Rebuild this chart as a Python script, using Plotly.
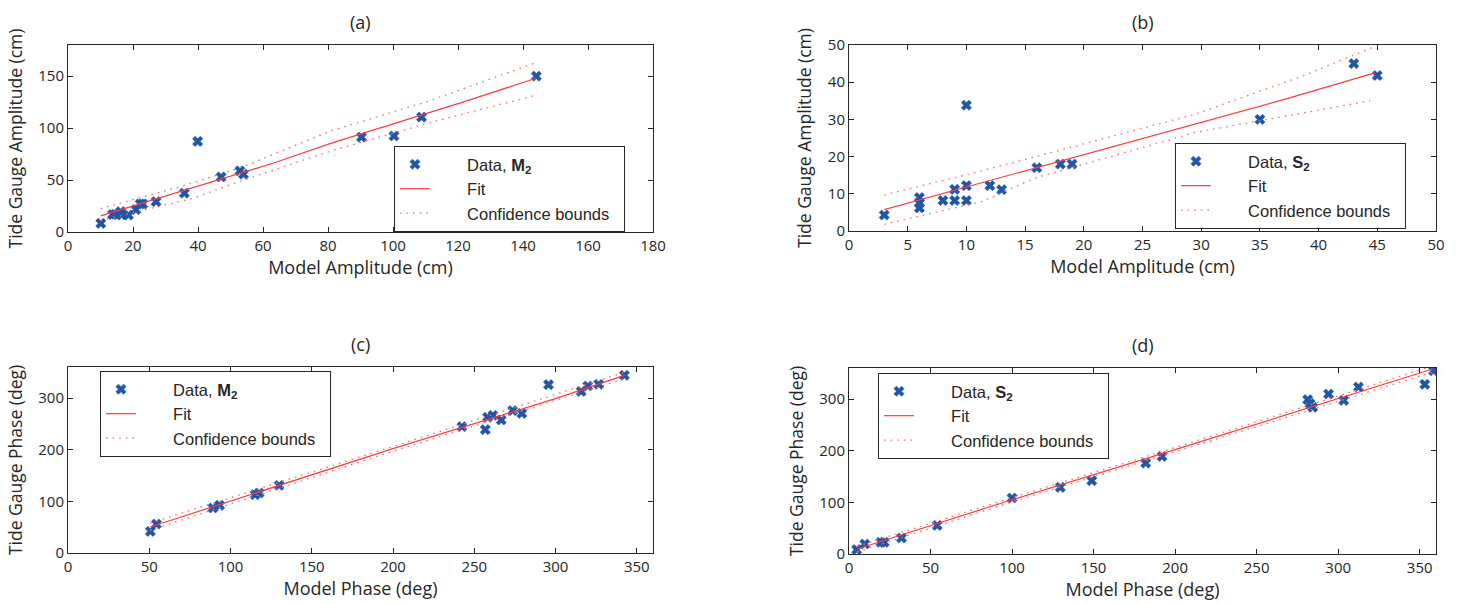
import plotly.graph_objects as go

# ---------------- data ----------------
# (a) amplitude M2
a_model = [10.1, 13.7, 14.5, 16.2, 16.5, 18.6, 20.9, 22.2, 23.0, 27.1, 35.8, 39.9, 47.1, 52.9, 54.0, 90.3, 100.3, 108.8, 144.1]
a_gauge = [8.3, 16.8, 17.1, 19.6, 16.5, 16.3, 21.5, 27.0, 27.0, 29.2, 37.4, 87.2, 53.0, 58.8, 55.6, 91.3, 92.4, 110.6, 150.0]
a_fit_x = [10, 64, 80.6, 122.7, 144]
a_fit_y = [15.5, 67.1, 85.0, 126.2, 148.0]
a_up_x = [10, 36, 54, 80.6, 111, 144]
a_up_y = [22.5, 45.0, 63.0, 97.0, 126.0, 163.0]
a_lo_x = [10, 28, 38.6, 54, 80.6, 111, 144]
a_lo_y = [11.0, 24.5, 32.6, 50.0, 77.7, 105.0, 131.7]

# (b) amplitude S2
b_model = [3, 6, 6, 6, 8, 9, 9, 10, 10, 10, 12, 13, 16, 18, 19, 35, 43, 45]
b_gauge = [4.3, 9.0, 7.5, 6.2, 8.2, 8.2, 11.2, 8.2, 12.2, 33.8, 12.2, 11.1, 17.0, 18.0, 18.0, 30.0, 45.0, 41.8]
b_fit_x = [3, 23.2, 37.1, 44.8]
b_fit_y = [5.75, 23.2, 35.4, 42.5]
b_up_x = [3, 9.85, 15.8, 29.5, 38.6, 44.8]
b_up_y = [9.7, 15.0, 19.9, 31.4, 41.6, 49.6]
b_lo_x = [3, 11.4, 15.8, 29.5, 44.4]
b_lo_y = [1.8, 8.0, 14.2, 26.5, 35.0]

# (c) phase M2
c_model = [50.7, 54.4, 89.2, 93.3, 115.1, 117.6, 129.9, 242.4, 256.8, 258.2, 261.5, 266.6, 273.6, 279.3, 295.7, 315.8, 319.9, 326.6, 342.4]
c_gauge = [41.9, 56.1, 87.1, 92.3, 112.9, 116.1, 131.0, 244.5, 238.7, 262.6, 266.5, 257.4, 275.5, 270.3, 325.8, 312.9, 323.2, 326.5, 343.9]
c_fit_x = [50.5, 200, 300, 342.4]
c_fit_y = [50.3, 201.9, 298.7, 343.9]
c_up_x = [50.5, 200, 342.4]
c_up_y = [58.0, 206.0, 350.0]
c_lo_x = [50.5, 200, 342.4]
c_lo_y = [44.0, 197.0, 337.0]

# (d) phase S2
d_model = [4.7, 9.7, 19.5, 21.6, 32.2, 54.1, 100.0, 129.6, 148.9, 182.0, 192.0, 281.3, 282.7, 284.4, 294.1, 303.4, 312.4, 353.1, 358.5]
d_gauge = [8.4, 19.4, 22.6, 22.6, 31.0, 55.5, 108.4, 129.0, 141.9, 176.0, 189.0, 298.7, 291.0, 283.9, 309.7, 297.4, 323.2, 328.4, 354.8]
d_fit_x = [5, 100, 200, 300, 358]
d_fit_y = [9.7, 105, 202, 300, 358]
d_up_x = [5, 100, 200, 300, 358]
d_up_y = [15, 109, 206, 305, 364]
d_lo_x = [5, 100, 200, 300, 358]
d_lo_y = [4, 101, 198, 295, 352]

titles = ["(a)", "(b)", "(c)", "(d)"]
xlabels = ["Model Amplitude (cm)", "Model Amplitude (cm)", "Model Phase (deg)", "Model Phase (deg)"]
ylabels = ["Tide Gauge Amplitude (cm)", "Tide Gauge Amplitude (cm)", "Tide Gauge Phase (deg)", "Tide Gauge Phase (deg)"]
data_names = ["Data, <b>M</b><b><sub>2</sub></b>", "Data, <b>S</b><b><sub>2</sub></b>",
              "Data, <b>M</b><b><sub>2</sub></b>", "Data, <b>S</b><b><sub>2</sub></b>"]
fit_name = "Fit"
bound_name = "Confidence bounds"

# ---------------- styling / layout ----------------
W, H = 1461, 604
MARKER = "#1f56a8"
FIT = "#ff3b3b"
BOUND = "#ff6a6a"
FONT = "Open Sans"
LFONT = "Liberation Sans"
PAD = "&nbsp;" * 7
TAIL = "&nbsp;" * 2

def px_dom(a, b, total):
    return [a / total, b / total]

xdoms = [px_dom(68, 653, W), px_dom(849, 1436, W), px_dom(68, 653, W), px_dom(849, 1436, W)]
ydoms = [[(H - 232) / H, (H - 45) / H], [(H - 231) / H, (H - 45) / H],
         [(H - 553) / H, (H - 367) / H], [(H - 554) / H, (H - 368) / H]]
xranges = [[0, 180], [0, 50], [0, 360], [0, 360]]
yranges = [[0, 180], [0, 50], [0, 360], [0, 360]]
xdtick = [20, 5, 50, 50]
ydtick = [50, 10, 100, 100]
legpos = [(394, 146), (1175, 143), (100, 371), (878, 373)]

panels = [
    (a_model, a_gauge, a_fit_x, a_fit_y, a_up_x, a_up_y, a_lo_x, a_lo_y),
    (b_model, b_gauge, b_fit_x, b_fit_y, b_up_x, b_up_y, b_lo_x, b_lo_y),
    (c_model, c_gauge, c_fit_x, c_fit_y, c_up_x, c_up_y, c_lo_x, c_lo_y),
    (d_model, d_gauge, d_fit_x, d_fit_y, d_up_x, d_up_y, d_lo_x, d_lo_y),
]

fig = go.Figure()
layout = dict(width=W, height=H, margin=dict(l=0, r=0, t=0, b=0, autoexpand=False),
              paper_bgcolor="white", plot_bgcolor="white", showlegend=True,
              font=dict(family=FONT, size=15, color="#262626"))
annotations = []
DOT = "1.6px,5px"

for i, (mx, my, fx, fy, ux, uy, lx, ly) in enumerate(panels):
    n = i + 1
    xa = "x" if n == 1 else f"x{n}"
    ya = "y" if n == 1 else f"y{n}"
    leg = "legend" if n == 1 else f"legend{n}"
    fig.add_trace(go.Scatter(x=mx, y=my, mode="markers", name=PAD + data_names[i] + TAIL,
                             marker=dict(symbol="x", size=9, color=MARKER,
                                         line=dict(width=0.6, color=MARKER)),
                             legendgroup=f"d{n}", xaxis=xa, yaxis=ya, legend=leg))
    fig.add_trace(go.Scatter(x=fx, y=fy, mode="lines", name=PAD + fit_name + TAIL,
                             line=dict(color=FIT, width=1.2),
                             legendgroup=f"f{n}", xaxis=xa, yaxis=ya, legend=leg))
    fig.add_trace(go.Scatter(x=ux, y=uy, mode="lines", name=PAD + bound_name + TAIL,
                             line=dict(color=BOUND, width=1.3, dash=DOT),
                             legendgroup=f"b{n}", xaxis=xa, yaxis=ya, legend=leg))
    fig.add_trace(go.Scatter(x=lx, y=ly, mode="lines", name=PAD + bound_name + TAIL,
                             line=dict(color=BOUND, width=1.3, dash=DOT),
                             legendgroup=f"b{n}", showlegend=False,
                             xaxis=xa, yaxis=ya, legend=leg))

    axcommon = dict(showline=True, linecolor="#262626", linewidth=1, mirror="ticks",
                    ticks="inside", ticklen=5, tickcolor="#262626", showgrid=False,
                    zeroline=False, automargin=False,
                    tickfont=dict(family=FONT, size=15, color="#262626"))
    layout["xaxis" if n == 1 else f"xaxis{n}"] = dict(
        domain=xdoms[i], range=xranges[i], dtick=xdtick[i], tick0=0,
        anchor=ya, title=dict(text=xlabels[i], standoff=7,
                              font=dict(family=FONT, size=18, color="#262626")),
        **axcommon)
    layout["yaxis" if n == 1 else f"yaxis{n}"] = dict(
        domain=ydoms[i], range=yranges[i], dtick=ydtick[i], tick0=0,
        anchor=xa, title=dict(text=ylabels[i], standoff=11,
                              font=dict(family=FONT, size=17.5, color="#262626")),
        **axcommon)
    lx0, ly0 = legpos[i]
    layout[leg] = dict(x=lx0 / W, y=(H - ly0) / H, xanchor="left", yanchor="top",
                       bgcolor="white", bordercolor="#262626", borderwidth=1,
                       font=dict(family=LFONT, size=16.5, color="#262626"),
                       tracegroupgap=0)
    cx = (xdoms[i][0] + xdoms[i][1]) / 2
    annotations.append(dict(text=titles[i], x=cx, y=ydoms[i][1] + 23 / H,
                            xref="paper", yref="paper", showarrow=False,
                            xanchor="center", yanchor="middle",
                            font=dict(family=FONT, size=18, color="#262626")))

layout["annotations"] = annotations
fig.update_layout(**layout)
fig.write_html("out.html", config={"displayModeBar": False},
               post_script="document.body.style.margin='0';document.body.style.padding='0';")
